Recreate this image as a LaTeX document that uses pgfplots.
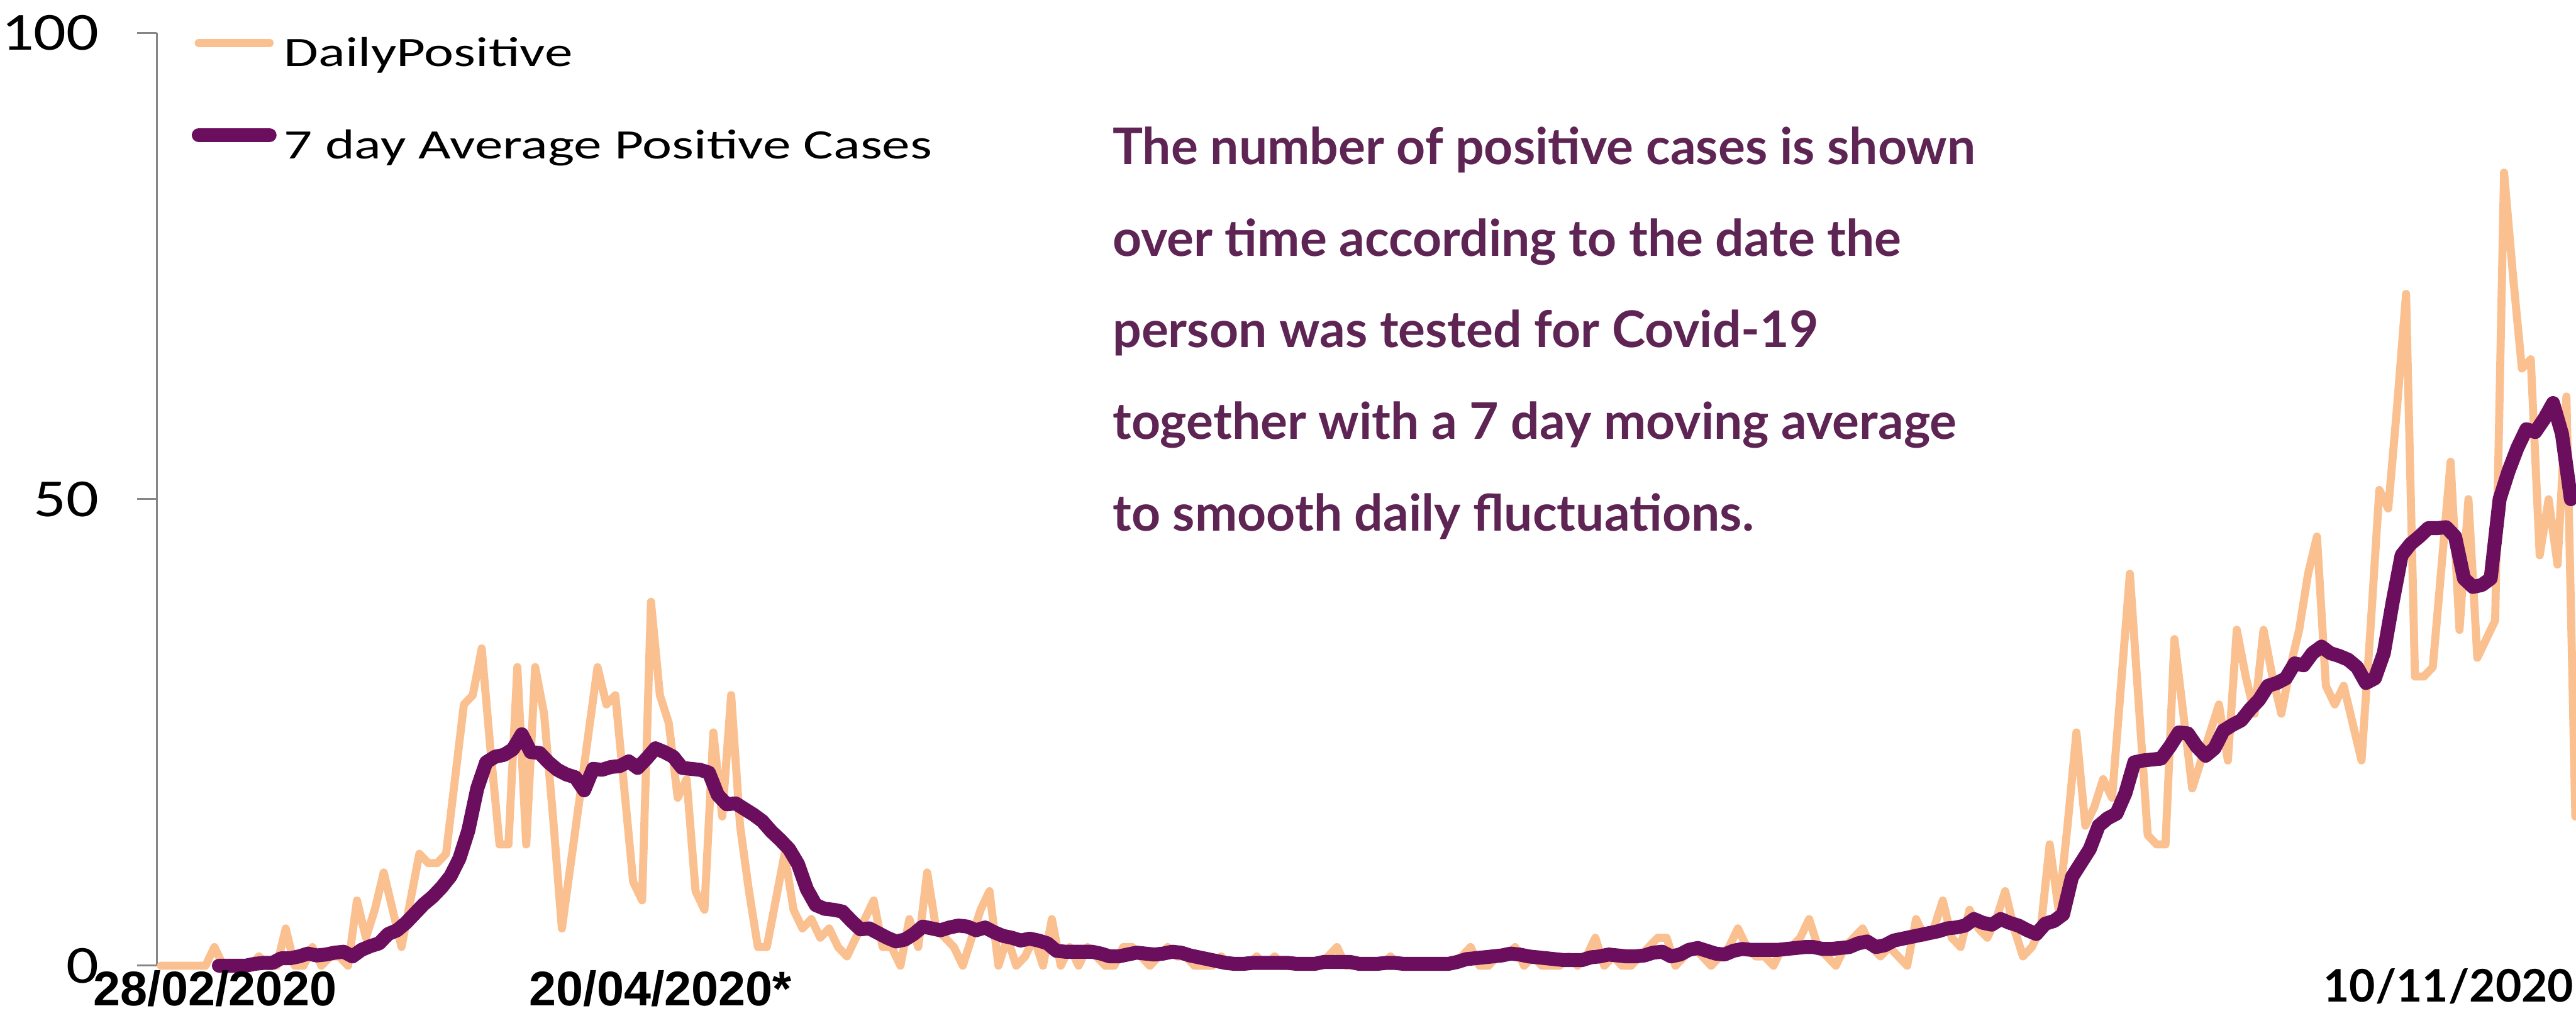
\documentclass[border=0pt]{standalone}
\usepackage{fontspec}
\usepackage{pgfplots}
\pgfplotsset{compat=1.18}
\newfontfamily\tickfont[FakeStretch=1.2]{Carlito}
\newfontfamily\legfont[FakeStretch=1.34]{Carlito}
\newfontfamily\latofont{Lato}
\newfontfamily\arialfont{Liberation Sans}
\definecolor{dailyc}{RGB}{250,192,144}
\definecolor{avgc}{RGB}{107,14,94}
\definecolor{annc}{RGB}{94,36,84}
\definecolor{axgray}{RGB}{134,134,134}
\begin{document}
\begin{tikzpicture}
\useasboundingbox (-1.46cm,-0.42cm) rectangle (22.54cm,9.0cm);
\begin{axis}[
  at={(0,0)}, anchor=south west,
  scale only axis, width=22.54cm, height=8.695cm,
  xmin=-0.48, xmax=271.08, ymin=0, ymax=100,
  clip=false,
  axis x line=none, axis y line*=left,
  y axis line style={draw=axgray, line width=0.5pt},
  ytick={0,50,100}, xtick=\empty,
  tick align=outside, major tick length=0.18cm,
  ytick style={draw=axgray, line width=0.5pt},
  yticklabel style={font=\fontsize{14.2}{17}\tickfont, anchor=east, inner sep=0pt, xshift=-0.35cm},
  /pgf/number format/assume math mode=true,
  legend cell align=left,
  legend image code/.code={\draw[#1] (0cm,0.12cm) -- (0.66cm,0.12cm);},
  legend style={draw=none, fill=none, at={(rel axis cs:0.0145,0.996)}, anchor=north west,
    inner sep=0pt, outer sep=0pt, row sep=0.495cm,
    font=\fontsize{11.1}{13}\legfont,
    nodes={inner sep=0pt, text height=0.28cm, text depth=0.08cm},
    /tikz/every odd column/.append style={column sep=0.07cm}},
]
\addplot[color=dailyc, line width=0.075cm, line cap=round, line join=round] coordinates {
(0,0) (1,0) (2,0) (3,0) (4,0) (5,0) (6,2) (7,0) (8,0) (9,0) (10,0) (11,1) (12,0) (13,0) (14,4) (15,0) (16,0) (17,2) (18,0) (19,1)
(20,1) (21,0) (22,7) (23,3) (24,6) (25,10) (26,6) (27,2) (28,7) (29,12) (30,11) (31,11) (32,12) (33,20) (34,28) (35,29) (36,34) (37,23) (38,13) (39,13)
(40,32) (41,13) (42,32) (43,27) (44,16) (45,4) (46,11) (47,18) (48,25) (49,32) (50,28) (51,29) (52,19) (53,9) (54,7) (55,39) (56,29) (57,26) (58,18) (59,20)
(60,8) (61,6) (62,25) (63,16) (64,29) (65,15) (66,8) (67,2) (68,2) (69,7) (70,12) (71,6) (72,4) (73,5) (74,3) (75,4) (76,2) (77,1) (78,3) (79,5)
(80,7) (81,2) (82,2) (83,0) (84,5) (85,2) (86,10) (87,4) (88,3) (89,2) (90,0) (91,3) (92,6) (93,8) (94,0) (95,3) (96,0) (97,1) (98,3) (99,0)
(100,5) (101,0) (102,2) (103,0) (104,2) (105,1) (106,0) (107,0) (108,2) (109,2) (110,1) (111,0) (112,1) (113,2) (114,1) (115,1) (116,0) (117,0) (118,0) (119,1)
(120,0) (121,0) (122,0) (123,1) (124,0) (125,1) (126,0) (127,0) (128,0) (129,0) (130,0) (131,1) (132,2) (133,0) (134,0) (135,0) (136,0) (137,0) (138,1) (139,0)
(140,0) (141,0) (142,0) (143,0) (144,0) (145,0) (146,1) (147,2) (148,0) (149,0) (150,1) (151,1) (152,2) (153,0) (154,1) (155,0) (156,0) (157,0) (158,1) (159,0)
(160,1) (161,3) (162,0) (163,1) (164,0) (165,0) (166,1) (167,2) (168,3) (169,3) (170,0) (171,1) (172,2) (173,1) (174,0) (175,1) (176,2) (177,4) (178,2) (179,1)
(180,1) (181,0) (182,2) (183,2) (184,3) (185,5) (186,2) (187,1) (188,0) (189,2) (190,3) (191,4) (192,2) (193,1) (194,2) (195,1) (196,0) (197,5) (198,3) (199,4)
(200,7) (201,3) (202,2) (203,6) (204,4) (205,3) (206,5) (207,8) (208,4) (209,1) (210,2) (211,4) (212,13) (213,6) (214,15) (215,25) (216,15) (217,17) (218,20) (219,18)
(220,30) (221,42) (222,28) (223,14) (224,13) (225,13) (226,35) (227,27) (228,19) (229,22) (230,25) (231,28) (232,22) (233,36) (234,31) (235,27) (236,36) (237,31) (238,27) (239,32)
(240,36) (241,42) (242,46) (243,30) (244,28) (245,30) (246,26) (247,22) (248,36) (249,51) (250,49) (251,60) (252,72) (253,31) (254,31) (255,32) (256,43) (257,54) (258,36) (259,50)
(260,33) (261,35) (262,37) (263,85) (264,74) (265,64) (266,65) (267,44) (268,50) (269,43) (270,61) (271,16)
};
\addlegendentry{DailyPositive}
\addplot[color=avgc, line width=0.13cm, line cap=round, line join=round] coordinates {
(6.5,0) (7.5,0) (8.5,0) (9.5,0) (10.5,0.2) (11.5,0.3) (12.5,0.3) (13.5,0.8) (14.5,0.8) (15.5,1.0) (16.5,1.3) (17.5,1.1) (18.5,1.2) (19.5,1.4)
(20.5,1.5) (21.5,1.0) (22.5,1.7) (23.5,2.1) (24.5,2.4) (25.5,3.4) (26.5,3.8) (27.5,4.6) (28.5,5.6) (29.5,6.6) (30.5,7.4) (31.5,8.4) (32.5,9.6) (33.5,11.5) (34.5,14.5) (35.5,19)
(36.5,21.8) (37.5,22.4) (38.5,22.6) (39.5,23.2) (40.5,24.8) (41.5,22.9) (42.5,22.8) (43.5,21.8) (44.5,21) (45.5,20.5) (46.5,20.2) (47.5,18.8) (48.5,21.1) (49.5,21) (50.5,21.3)
(51.5,21.4) (52.5,21.9) (53.5,21.2) (54.5,22.2) (55.5,23.3) (56.5,22.9) (57.5,22.4) (58.5,21.2) (59.5,21.1) (60.5,21) (61.5,20.7) (62.5,18.3) (63.5,17.3) (64.5,17.4) (65.5,16.8)
(66.5,16.2) (67.5,15.5) (68.5,14.4) (69.5,13.5) (70.5,12.5) (71.5,10.9) (72.5,8.2) (73.5,6.5) (74.5,6.1) (75.5,6) (76.5,5.8) (77.5,4.8) (78.5,3.9) (79.5,4) (80.5,3.5)
(81.5,3) (82.5,2.6) (83.5,2.8) (84.5,3.4) (85.5,4.2) (86.5,4) (87.5,3.8) (88.5,4.1) (89.5,4.3) (90.5,4.2) (91.5,3.8) (92.5,4.1) (93.5,3.6) (94.5,3.2) (95.5,3)
(96.5,2.7) (97.5,2.9) (98.5,2.7) (99.5,2.4) (100.5,1.6) (101.5,1.5) (102.5,1.5) (103.5,1.5) (104.5,1.5) (105.5,1.3) (106.5,1) (107.5,1) (108.5,1.2) (109.5,1.4) (110.5,1.3)
(111.5,1.2) (112.5,1.3) (113.5,1.5) (114.5,1.4) (115.5,1.1) (116.5,0.9) (117.5,0.7) (118.5,0.5) (119.5,0.3) (120.5,0.2) (121.5,0.2) (122.5,0.3) (123.5,0.3) (124.5,0.3) (125.5,0.3)
(126.5,0.3) (127.5,0.2) (128.5,0.2) (129.5,0.2) (130.5,0.4) (131.5,0.4) (132.5,0.4) (133.5,0.4) (134.5,0.2) (135.5,0.2) (136.5,0.2) (137.5,0.3) (138.5,0.3) (139.5,0.2) (140.5,0.2)
(141.5,0.2) (142.5,0.2) (143.5,0.2) (144.5,0.2) (145.5,0.4) (146.5,0.7) (147.5,0.8) (148.5,0.9) (149.5,1) (150.5,1.1) (151.5,1.3) (152.5,1.2) (153.5,1) (154.5,0.9) (155.5,0.8)
(156.5,0.7) (157.5,0.6) (158.5,0.6) (159.5,0.6) (160.5,0.9) (161.5,1) (162.5,1.2) (163.5,1.1) (164.5,1) (165.5,1) (166.5,1.1) (167.5,1.4) (168.5,1.5) (169.5,1) (170.5,1.2)
(171.5,1.7) (172.5,1.9) (173.5,1.6) (174.5,1.3) (175.5,1.2) (176.5,1.6) (177.5,1.8) (178.5,1.7) (179.5,1.7) (180.5,1.7) (181.5,1.7) (182.5,1.8) (183.5,1.9) (184.5,2) (185.5,2)
(186.5,1.8) (187.5,1.8) (188.5,1.9) (189.5,2) (190.5,2.4) (191.5,2.6) (192.5,2) (193.5,2.2) (194.5,2.7) (195.5,2.9) (196.5,3.1) (197.5,3.3) (198.5,3.5) (199.5,3.7) (200.5,4)
(201.5,4.1) (202.5,4.3) (203.5,5) (204.5,4.6) (205.5,4.4) (206.5,5) (207.5,4.6) (208.5,4.3) (209.5,3.8) (210.5,3.4) (211.5,4.5) (212.5,4.8) (213.5,5.5) (214.5,9.5) (215.5,11)
(216.5,12.5) (217.5,15) (218.5,15.8) (219.5,16.3) (220.5,18.5) (221.5,21.8) (222.5,22) (223.5,22.1) (224.5,22.2) (225.5,23.5) (226.5,25) (227.5,24.9) (228.5,23.5) (229.5,22.5) (230.5,23.3)
(231.5,25.2) (232.5,25.8) (233.5,26.3) (234.5,27.5) (235.5,28.5) (236.5,30) (237.5,30.3) (238.5,30.8) (239.5,32.4) (240.5,32.2) (241.5,33.5) (242.5,34.2) (243.5,33.5) (244.5,33.2) (245.5,32.8)
(246.5,32) (247.5,30.3) (248.5,30.8) (249.5,33.5) (250.5,39) (251.5,44) (252.5,45.2) (253.5,46) (254.5,46.9) (255.5,46.9) (256.5,47) (257.5,46) (258.5,41.5) (259.5,40.6) (260.5,40.8)
(261.5,41.5) (262.5,50) (263.5,53) (264.5,55.5) (265.5,57.5) (266.5,57.2) (267.5,58.6) (268.5,60.3) (269.5,57) (270.5,50)
};
\addlegendentry{7 day Average Positive Cases}
\node[anchor=base west, inner sep=0pt, font=\fontsize{12.9}{15}\arialfont\bfseries] at (axis cs:-7.65,-4.26) {28/02/2020};
\node[anchor=base west, inner sep=0pt, font=\fontsize{12.9}{15}\arialfont\bfseries] at (axis cs:41.27,-4.26) {20/04/2020*};
\node[anchor=base west, inner sep=0pt, font=\fontsize{11.9}{14}\latofont\bfseries] at (axis cs:242.65,-3.85) {10/11/2020};
\node[anchor=base west, inner sep=0pt, text=annc, font=\fontsize{13.4}{15}\latofont\bfseries] at (axis cs:106.75,85.85) {The number of positive cases is shown};
\node[anchor=base west, inner sep=0pt, text=annc, font=\fontsize{13.4}{15}\latofont\bfseries] at (axis cs:106.75,76.05) {over time according to the date the};
\node[anchor=base west, inner sep=0pt, text=annc, font=\fontsize{13.4}{15}\latofont\bfseries] at (axis cs:106.75,66.24) {person was tested for Covid-19};
\node[anchor=base west, inner sep=0pt, text=annc, font=\fontsize{13.4}{15}\latofont\bfseries] at (axis cs:106.75,56.44) {together with a 7 day moving average};
\node[anchor=base west, inner sep=0pt, text=annc, font=\fontsize{13.4}{15}\latofont\bfseries] at (axis cs:106.75,46.63) {to smooth daily fluctuations.};
\end{axis}
\end{tikzpicture}
\end{document}
